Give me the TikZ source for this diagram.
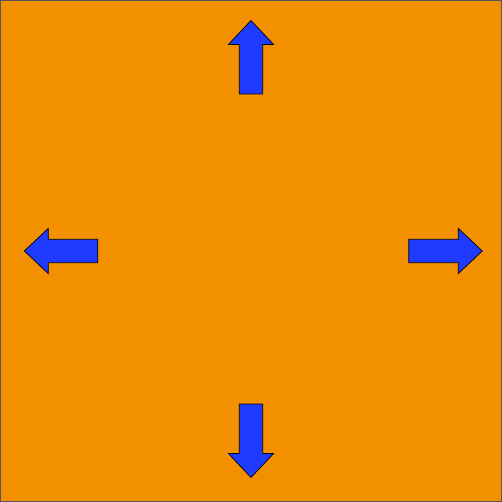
\documentclass[tikz,border=0pt]{standalone}
\usetikzlibrary{calc}
\definecolor{boardorange}{HTML}{F39000}
\definecolor{arrowblue}{HTML}{1F3BFF}
\definecolor{edgegray}{HTML}{555555}

\begin{document}
\begin{tikzpicture}[
    x=1pt, y=1pt,
    board/.style={fill=boardorange, draw=edgegray, line width=1pt},
    blockarrow/.style={fill=arrowblue, draw=black, line width=0.7pt, line join=miter},
]
% Background square
\useasboundingbox (-251,-251) rectangle (251,251);
\draw[board] (-250.5,-250.5) rectangle (250.5,250.5);

% Four block arrows: up, left, down, right (with small offsets)
\foreach \ang/\off in {0/0, 90/-3.8, 180/-4, 270/0.8}{
  \begin{scope}[rotate=\ang, yshift=\off]
    \draw[blockarrow] (-11.7,157) -- (11.7,157) -- (11.7,206.5) -- (22.6,206.5)
      -- (0,230.5) -- (-22.6,206.5) -- (-11.7,206.5) -- cycle;
  \end{scope}
}
\end{tikzpicture}
\end{document}
